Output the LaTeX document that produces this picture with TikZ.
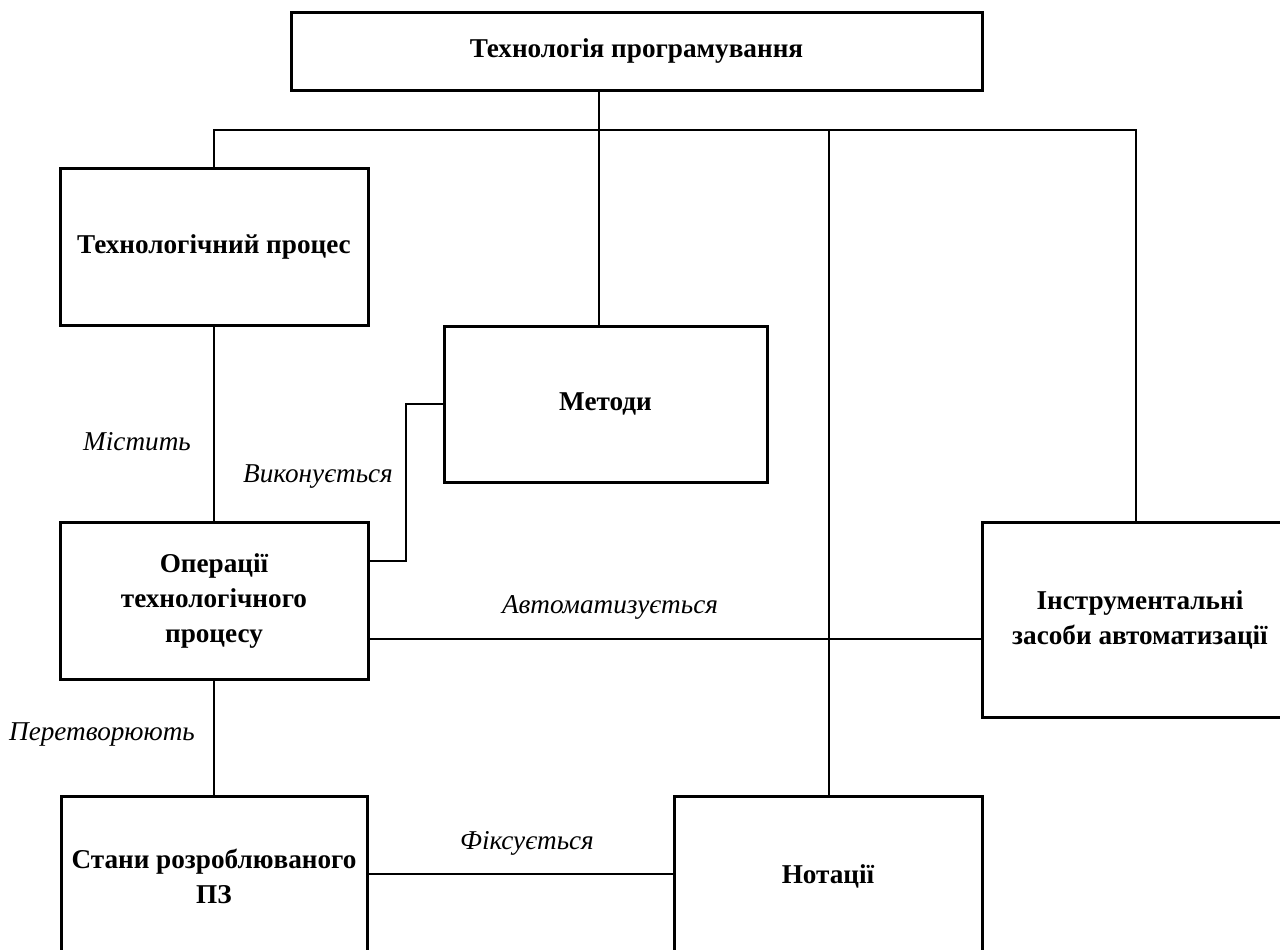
\documentclass[tikz,border=0pt]{standalone}
\usepackage{fontspec}
\setmainfont{Liberation Serif}
\begin{document}
\begin{tikzpicture}[x=0.5pt,y=-0.5pt,
  box/.style={draw,line width=1.5pt,rectangle,inner sep=0pt,align=center,
    font=\fontsize{13.6}{17.5}\selectfont\bfseries},
  conn/.style={line width=0.75pt},
  lbl/.style={inner sep=0pt,font=\fontsize{13.6}{16}\selectfont\itshape}]
\useasboundingbox (0,0) rectangle (1280,949);
\clip (0,0) rectangle (1280,949);
\node[box,minimum width=345.5pt,minimum height=39pt] (top) at (636.5,51) {Технологія програмування};
\node[box,minimum width=154pt,minimum height=78.5pt] (proc) at (214,246.5) {Технологічний процес};
\node[box,minimum width=161.5pt,minimum height=78pt] (meth) at (605.5,404) {Методи};
\node[box,minimum width=154pt,minimum height=78.5pt] (ops) at (214,600.5) {Операції\\технологічного\\процесу};
\node[box,minimum width=158pt,minimum height=97.5pt] (tools) at (1140,619.5) {Інструментальні\\засоби автоматизації};
\node[box,minimum width=153pt,minimum height=80pt] (states) at (214,876) {Стани розроблюваного\\ПЗ};
\node[box,minimum width=154pt,minimum height=80pt] (nots) at (828,876) {Нотації};
\coordinate (busL) at (214,130);
\coordinate (busR) at (1136,130);
\coordinate (vm) at (599,130);
\coordinate (vn) at (829,130);
\coordinate (e1) at (406,561);
\coordinate (e2) at (600,639);
\coordinate (e3) at (520,874);
\draw[conn] (top.south -| vm) -- (meth.north -| vm);
\draw[conn] (proc.north) -- (busL) -- (busR) -- (busR |- tools.north);
\draw[conn] (vn) -- (nots.north -| vn);
\draw[conn] (proc.south) -- (ops.north);
\draw[conn] (ops.south) -- (states.north);
\draw[conn] (ops.east |- e1) -- (e1) |- (meth.west);
\draw[conn] (ops.east |- e2) -- (tools.west |- e2);
\draw[conn] (states.east |- e3) -- (nots.west |- e3);
\node[lbl] (l1) at (137,442) {Містить};
\node[lbl] (l2) at (318,477) {Виконується};
\node[lbl] (l3) at (610,607) {Автоматизується};
\node[lbl] (l4) at (102,734) {Перетворюють};
\node[lbl] (l5) at (527,843) {Фіксується};
\end{tikzpicture}
\end{document}
